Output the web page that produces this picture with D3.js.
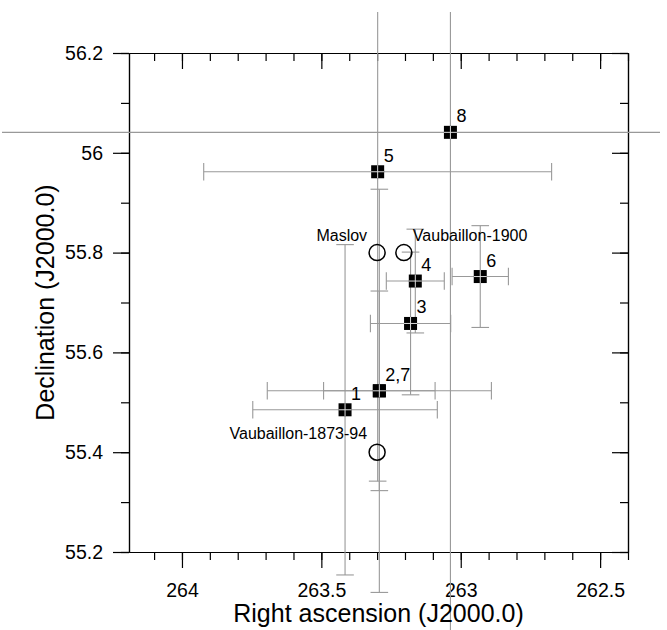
<!DOCTYPE html>
<html>
<head>
<meta charset="utf-8">
<script src="https://cdn.jsdelivr.net/npm/d3@7"></script>
<style>
body { margin: 0; background: #fff; }
svg { display: block; font-family: "Liberation Sans", Arial, sans-serif; }
</style>
</head>
<body>
<div id="chart"></div>
<script>
// observed radiants (numbered) with their error ranges
var pointIds = ["1", "2", "3", "4", "5", "6", "7", "8"];
var pointRA = [263.415, 263.292, 263.18, 263.163, 263.298, 262.93, 263.292, 263.037];
var pointDec = [55.485, 55.523, 55.658, 55.743, 55.962, 55.752, 55.523, 56.041];
var raErr = [0.331, 0.2, 0.144, 0.104, 0.624, 0.101, 0.402, 3];
var decErr = [0.331, 0.2, 0.143, 0.104, 0.62, 0.102, 0.404, 3];
var pointLabels = ["1", "2,7", "3", "4", "5", "6", "", "8"];

// model radiants (open circles)
var modelNames = ["Maslov", "Vaubaillon-1900", "Vaubaillon-1873-94"];
var modelRA = [263.3, 263.204, 263.3];
var modelDec = [55.8, 55.8, 55.4];

var xTicks = [264, 263.5, 263, 262.5];
var yTicks = [55.2, 55.4, 55.6, 55.8, 56, 56.2];

drawChart();

function drawChart()
{
	var width = 667, height = 630;
	var mLeft = 129, mRight = 628, mTop = 53, mBottom = 552;

	var x = d3.scaleLinear().domain([264.19, 262.4]).range([mLeft, mRight]);
	var y = d3.scaleLinear().domain([55.2, 56.2]).range([mBottom, mTop]);

	var svg = d3.select("#chart").append("svg")
		.attr("width", width)
		.attr("height", height);

	// error bars are clipped a bit outside the frame
	svg.append("clipPath").attr("id", "clip")
		.append("rect")
		.attr("x", 2).attr("y", 12)
		.attr("width", 658).attr("height", 640);

	var points = pointIds.map(function(id, i) {
		return {id: id, ra: pointRA[i], dec: pointDec[i], ex: raErr[i], ey: decErr[i], label: pointLabels[i]};
	});

	// minor ticks every 0.1
	var xMinor = d3.range(0, 18).map(function(i){ return +(264.1 - i * 0.1).toFixed(1); });
	var yMinor = d3.range(0, 11).map(function(i){ return +(55.2 + i * 0.1).toFixed(1); });

	function styleAxis(g) {
		g.attr("font-size", null).attr("font-family", null);
		g.selectAll("path, line").attr("stroke", "#000").attr("stroke-width", 1.2);
		g.selectAll("text").attr("fill", "#000").style("font-size", "19.5px");
	}

	// bottom axis
	svg.append("g").attr("transform", "translate(0," + mBottom + ")")
		.call(d3.axisBottom(x).tickValues(xMinor).tickSize(8).tickFormat("").tickSizeOuter(0))
		.call(styleAxis);
	svg.append("g").attr("transform", "translate(0," + mBottom + ")")
		.call(d3.axisBottom(x).tickValues(xTicks).tickSize(16).tickPadding(15).tickSizeOuter(0)
			.tickFormat(function(d){ return String(d); }))
		.call(styleAxis);

	// top axis, ticks point inside
	svg.append("g").attr("transform", "translate(0," + mTop + ")")
		.call(d3.axisTop(x).tickValues(xMinor).tickSize(-8).tickFormat("").tickSizeOuter(0))
		.call(styleAxis);
	svg.append("g").attr("transform", "translate(0," + mTop + ")")
		.call(d3.axisTop(x).tickValues(xTicks).tickSize(-16).tickFormat("").tickSizeOuter(0))
		.call(styleAxis);

	// left axis
	svg.append("g").attr("transform", "translate(" + mLeft + ",0)")
		.call(d3.axisLeft(y).tickValues(yMinor).tickSize(8).tickFormat("").tickSizeOuter(0))
		.call(styleAxis);
	svg.append("g").attr("transform", "translate(" + mLeft + ",0)")
		.call(d3.axisLeft(y).tickValues(yTicks).tickSize(16).tickPadding(10).tickSizeOuter(0)
			.tickFormat(function(d){ return String(d); }))
		.call(styleAxis);

	// right axis, ticks point inside
	svg.append("g").attr("transform", "translate(" + mRight + ",0)")
		.call(d3.axisRight(y).tickValues(yMinor).tickSize(-8).tickFormat("").tickSizeOuter(0))
		.call(styleAxis);
	svg.append("g").attr("transform", "translate(" + mRight + ",0)")
		.call(d3.axisRight(y).tickValues(yTicks).tickSize(-16).tickFormat("").tickSizeOuter(0))
		.call(styleAxis);

	// error bars
	var bars = svg.append("g").attr("clip-path", "url(#clip)")
		.attr("stroke", "#999").attr("stroke-width", 1.1).attr("fill", "none");
	var cap = 8.8;

	points.forEach(function(p) {
		var cx = x(p.ra), cy = y(p.dec);
		var x0 = x(p.ra + p.ex), x1 = x(p.ra - p.ex);
		var y0 = y(p.dec + p.ey), y1 = y(p.dec - p.ey);
		var g = bars.append("g");
		g.append("line").attr("x1", x0).attr("x2", x1).attr("y1", cy).attr("y2", cy);
		g.append("line").attr("x1", cx).attr("x2", cx).attr("y1", y0).attr("y2", y1);
		[x0, x1].forEach(function(xx){
			g.append("line").attr("x1", xx).attr("x2", xx).attr("y1", cy - cap).attr("y2", cy + cap);
		});
		[y0, y1].forEach(function(yy){
			g.append("line").attr("x1", cx - cap).attr("x2", cx + cap).attr("y1", yy).attr("y2", yy);
		});
	});

	// model circles
	svg.selectAll(".model")
		.data(modelNames)
		.enter()
		.append("circle")
		.attr("class", "model")
		.attr("cx", function(d, i){ return x(modelRA[i]); })
		.attr("cy", function(d, i){ return y(modelDec[i]); })
		.attr("r", 8)
		.attr("fill", "none")
		.attr("stroke", "#000")
		.attr("stroke-width", 1.5);

	// model labels
	var modelAnchor = ["end", "start", "end"];
	var modelDx = [-10, 9, -10];
	var modelDy = [-11.5, -11.5, -13];
	svg.selectAll(".model-label")
		.data(modelNames)
		.enter()
		.append("text")
		.attr("class", "model-label")
		.attr("x", function(d, i){ return x(modelRA[i]) + modelDx[i]; })
		.attr("y", function(d, i){ return y(modelDec[i]) + modelDy[i]; })
		.attr("text-anchor", function(d, i){ return modelAnchor[i]; })
		.style("font-size", "16px")
		.text(function(d){ return d; });

	// observed points: black square with light cross
	var sq = 13;
	var marks = svg.selectAll(".pt")
		.data(points)
		.enter()
		.append("g")
		.attr("class", "pt")
		.attr("transform", function(d){ return "translate(" + x(d.ra) + "," + y(d.dec) + ")"; });

	marks.append("rect")
		.attr("x", -sq / 2).attr("y", -sq / 2)
		.attr("width", sq).attr("height", sq)
		.attr("fill", "#000");
	marks.append("line")
		.attr("x1", -sq / 2).attr("x2", sq / 2).attr("y1", 0).attr("y2", 0)
		.attr("stroke", "#ddd").attr("stroke-width", 1);
	marks.append("line")
		.attr("x1", 0).attr("x2", 0).attr("y1", -sq / 2).attr("y2", sq / 2)
		.attr("stroke", "#ddd").attr("stroke-width", 1);

	marks.append("text")
		.attr("x", 6)
		.attr("y", -10)
		.style("font-size", "18px")
		.text(function(d){ return d.label; });

	// axis titles
	svg.append("text")
		.attr("x", (mLeft + mRight) / 2)
		.attr("y", 622)
		.attr("text-anchor", "middle")
		.style("font-size", "25px")
		.text("Right ascension (J2000.0)");

	svg.append("text")
		.attr("transform", "translate(54," + ((mTop + mBottom) / 2) + ") rotate(-90)")
		.attr("text-anchor", "middle")
		.style("font-size", "25px")
		.text("Declination (J2000.0)");
}
</script>
</body>
</html>
